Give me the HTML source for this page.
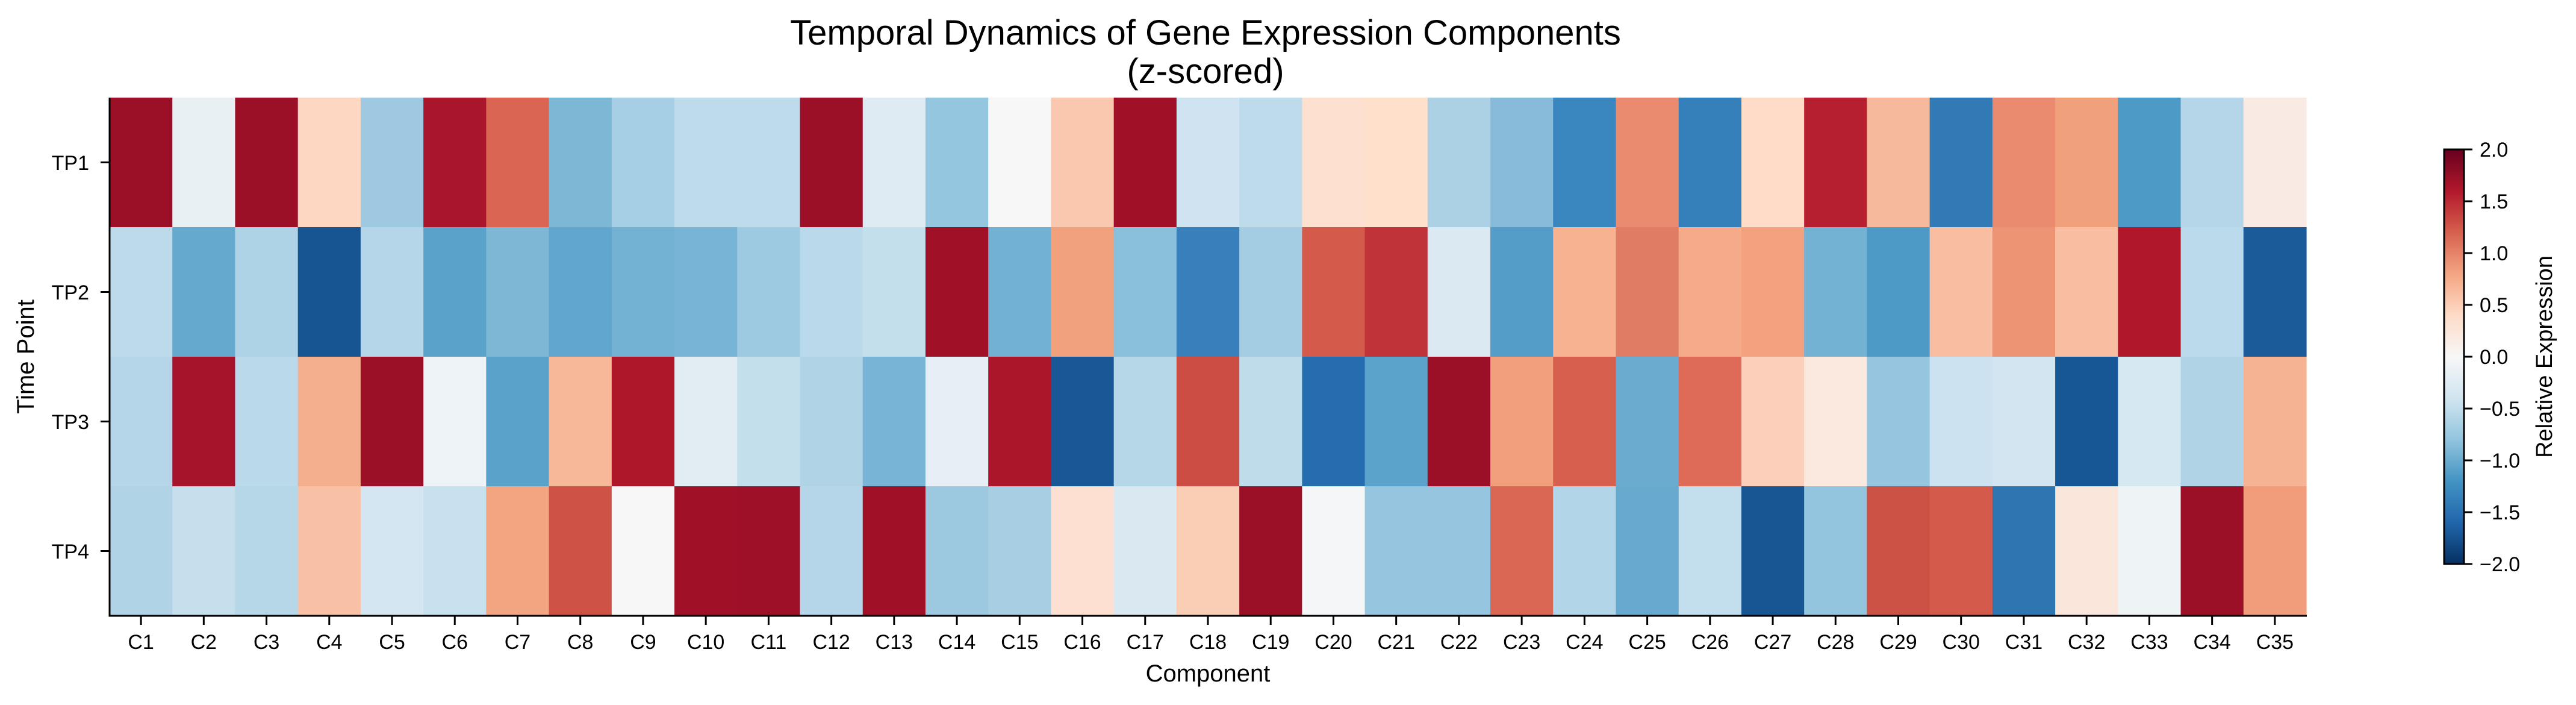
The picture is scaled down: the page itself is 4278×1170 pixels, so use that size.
<!DOCTYPE html>
<html><head><meta charset="utf-8"><style>
html,body{margin:0;padding:0;background:#fff;}
svg{display:block;}
text{font-family:"Liberation Sans",Arial,sans-serif;fill:#000;}
</style></head><body>
<svg width="4278" height="1170" viewBox="0 0 4278 1170" xmlns="http://www.w3.org/2000/svg">
<defs>
<linearGradient id="cb" x1="0" y1="1" x2="0" y2="0">
<stop offset="0" stop-color="#053061"/><stop offset="0.1" stop-color="#2166ac"/><stop offset="0.2" stop-color="#4393c3"/><stop offset="0.3" stop-color="#92c5de"/><stop offset="0.4" stop-color="#d1e5f0"/><stop offset="0.5" stop-color="#f7f7f7"/><stop offset="0.6" stop-color="#fddbc7"/><stop offset="0.7" stop-color="#f4a582"/><stop offset="0.8" stop-color="#d6604d"/><stop offset="0.9" stop-color="#b2182b"/><stop offset="1" stop-color="#67001f"/>
</linearGradient>
</defs>
<text x="2002" y="74" font-size="58" text-anchor="middle">Temporal Dynamics of Gene Expression Components</text>
<text x="2002" y="138" font-size="58" text-anchor="middle">(z-scored)</text>
<g id="cells"></g>
<g id="xt"></g>
<g stroke="#000" stroke-width="3">
<line x1="182" y1="162" x2="182" y2="1023.5"/>
<line x1="180.5" y1="1022" x2="3831" y2="1022"/>
<line x1="167" y1="269.5" x2="182" y2="269.5"/>
<line x1="167" y1="484.5" x2="182" y2="484.5"/>
<line x1="167" y1="699.5" x2="182" y2="699.5"/>
<line x1="167" y1="914.5" x2="182" y2="914.5"/>
</g>
<g font-size="34" text-anchor="end">
<text x="148" y="282">TP1</text>
<text x="148" y="497">TP2</text>
<text x="148" y="712">TP3</text>
<text x="148" y="927">TP4</text>
</g>
<text transform="translate(56,592) rotate(-90)" font-size="40" text-anchor="middle">Time Point</text>
<text x="2006" y="1131" font-size="40" text-anchor="middle">Component</text>
<rect x="4059" y="248" width="33" height="688" fill="url(#cb)" stroke="#000" stroke-width="3"/>
<g id="cbt"></g>
<text transform="translate(4238,592) rotate(-90)" font-size="38" text-anchor="middle">Relative Expression</text>
</svg>
<script>
var C=[
["#9b1027","#bcdaea","#b5d6e8","#b0d3e6"],
["#e8f0f4","#66a9cf","#a5142b","#c6dfed"],
["#9b1027","#aed3e6","#badaeb","#b5d7e8"],
["#fdd7c2","#175592","#f4b08e","#f8c0a4"],
["#9ec9e0","#b5d6e8","#9b1027","#d4e6f1"],
["#a9162b","#5ba2ca","#edf3f6","#c8e1ee"],
["#d96552","#7db7d6","#5ba2ca","#f3a581"],
["#7db7d6","#61a6cd","#f7b899","#ce5245"],
["#a6cee4","#74b2d4","#ae172a","#f7f7f7"],
["#bddbeb","#78b4d6","#e1edf3","#a01127"],
["#bddbeb","#9ecae1","#c4dfec","#9d1027"],
["#9b1027","#badaeb","#b0d3e6","#b5d6e8"],
["#deebf2","#c4dfec","#78b4d6","#a01127"],
["#95c6df","#a01127","#e7eff6","#9dc9e0"],
["#f7f7f7","#72b1d4","#ac162a","#a8cee4"],
["#f9c8ae","#f1a17c","#1a5796","#fde0d2"],
["#a01127","#8bc0dc","#b5d7e8","#dae9f1"],
["#cfe3f0","#3780bb","#cc4d44","#facdb5"],
["#bddbeb","#a4cce3","#bfdceb","#9b1027"],
["#fde0d0","#d45a4b","#266db0","#f5f6f7"],
["#fee0cb","#c03338","#5ca3cb","#95c5df"],
["#acd1e5","#dbeaf2","#9b1027","#95c5df"],
["#88bbda","#539dc8","#f2a07c","#da6753"],
["#3a87bf","#f7b292","#d65f4e","#b3d5e8"],
["#ea8b6f","#e17c64","#6cabd0","#68a9cf"],
["#357fba","#f5ab8a","#dd6b57","#c3deec"],
["#fedcc8","#f3a17e","#fbcfb9","#185693"],
["#b61f2f","#74b2d4","#fbe9df","#94c5df"],
["#f7b99b","#4d9ac7","#96c5df","#cc5246"],
["#317ab5","#f9bea1","#cde2f0","#d45a4b"],
["#ea8b70","#ec9474","#d2e5f0","#2d76b2"],
["#f1a07c","#f9bda1","#185795","#fae6db"],
["#4d9ac7","#b1172b","#d6e8f2","#eef3f6"],
["#b5d6e8","#bbdaeb","#b0d3e6","#9b1027"],
["#f9ebe3","#1b5b9a","#f5b394","#f19d7b"]];
var ns="http://www.w3.org/2000/svg",x0=182,w=(3830-182)/35,y0=162,h=215;
var g=document.getElementById("cells"),xt=document.getElementById("xt");
for(var i=0;i<35;i++){for(var j=0;j<4;j++){var r=document.createElementNS(ns,"rect");
r.setAttribute("x",x0+i*w);r.setAttribute("y",y0+j*h);r.setAttribute("width",w+0.6);r.setAttribute("height",h+0.6);r.setAttribute("fill",C[i][j]);g.appendChild(r);}
var cx=x0+(i+0.5)*w;var l=document.createElementNS(ns,"line");
l.setAttribute("x1",cx);l.setAttribute("x2",cx);l.setAttribute("y1",1022);l.setAttribute("y2",1037);l.setAttribute("stroke","#000");l.setAttribute("stroke-width","3");xt.appendChild(l);
var t=document.createElementNS(ns,"text");t.setAttribute("x",cx);t.setAttribute("y",1077);t.setAttribute("font-size","34");t.setAttribute("text-anchor","middle");t.textContent="C"+(i+1);xt.appendChild(t);}
var cb=document.getElementById("cbt"),labs=["2.0","1.5","1.0","0.5","0.0","\u22120.5","\u22121.0","\u22121.5","\u22122.0"];
for(var k=0;k<9;k++){var y=248+k*688/8;var l=document.createElementNS(ns,"line");
l.setAttribute("x1",4092);l.setAttribute("x2",4106);l.setAttribute("y1",y);l.setAttribute("y2",y);l.setAttribute("stroke","#000");l.setAttribute("stroke-width","3");cb.appendChild(l);
var t=document.createElementNS(ns,"text");t.setAttribute("x",4118);t.setAttribute("y",y+12);t.setAttribute("font-size","34");t.textContent=labs[k];cb.appendChild(t);}
</script>
</body></html>
